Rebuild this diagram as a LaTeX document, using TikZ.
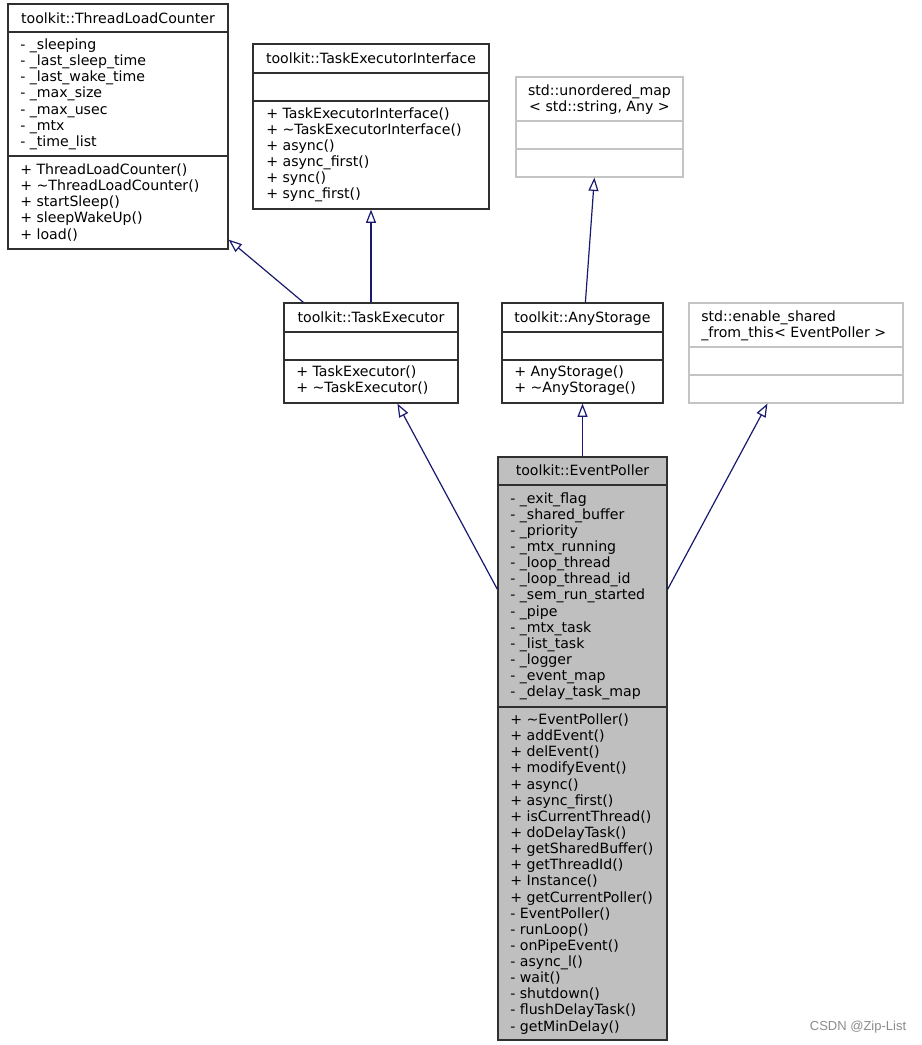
\documentclass[tikz,border=0pt]{standalone}
\usepackage{fontspec}
\setmainfont{DejaVu Sans}
\newfontfamily\wmfont{Liberation Sans}
\usetikzlibrary{arrows.meta,fit,calc}
\definecolor{edgeblue}{HTML}{191970}
\definecolor{epfill}{HTML}{BFBFBF}
\definecolor{lightborder}{HTML}{C4C4C4}
\definecolor{darkborder}{HTML}{303030}
\newcommand\umlfont{\fontsize{10.6}{12.1}\selectfont}
\begin{document}
\begin{tikzpicture}[x=0.75pt,y=-0.75pt,
  box/.style={draw=darkborder, line width=0.9pt, inner sep=0pt, fill=white},
  gbox/.style={draw=lightborder, line width=0.9pt, inner sep=0pt, fill=white},
  epbox/.style={draw=darkborder, line width=0.9pt, inner sep=0pt, fill=epfill},
  sep/.style={draw=darkborder, line width=0.9pt},
  gsep/.style={draw=lightborder, line width=0.9pt},
  txt/.style={inner sep=0pt, align=left, font=\umlfont, anchor=north west},
  ttl/.style={inner sep=0pt, align=center, font=\umlfont, anchor=north},
  inh/.style={draw=edgeblue, line width=0.9pt, -{Triangle[open, length=10pt, width=7.5pt]}}
]
\useasboundingbox (0,0) rectangle (921,1045);
\fill[white] (0,0) rectangle (921,1045);

% ---------- boxes ----------
\node[box,  fit={(8,4) (228,249)}]    (tlc) {};
\node[box,  fit={(253,44) (489,209)}] (tei) {};
\node[gbox, fit={(516,77) (683,177)}] (um)  {};
\node[box,  fit={(284,303) (458,403)}] (te) {};
\node[box,  fit={(502,303) (663,403)}] (as) {};
\node[gbox, fit={(689,303) (903,403)}] (es) {};
\node[epbox, fit={(498,457) (667,1040)}] (ep) {};

% ---------- separators ----------
\draw[sep] (tlc.west |- 0,32) -- (tlc.east |- 0,32);
\draw[sep] (tlc.west |- 0,156) -- (tlc.east |- 0,156);
\draw[sep] (tei.west |- 0,73) -- (tei.east |- 0,73);
\draw[sep] (tei.west |- 0,101) -- (tei.east |- 0,101);
\draw[gsep] (um.west |- 0,121) -- (um.east |- 0,121);
\draw[gsep] (um.west |- 0,149) -- (um.east |- 0,149);
\draw[sep] (te.west |- 0,332) -- (te.east |- 0,332);
\draw[sep] (te.west |- 0,360) -- (te.east |- 0,360);
\draw[sep] (as.west |- 0,332) -- (as.east |- 0,332);
\draw[sep] (as.west |- 0,360) -- (as.east |- 0,360);
\draw[gsep] (es.west |- 0,347) -- (es.east |- 0,347);
\draw[gsep] (es.west |- 0,375) -- (es.east |- 0,375);
\draw[sep] (ep.west |- 0,485) -- (ep.east |- 0,485);
\draw[sep] (ep.west |- 0,707) -- (ep.east |- 0,707);

% ---------- texts ----------
\node[ttl] (tlcT) at (118,11.5) {\strut toolkit::ThreadLoadCounter};
\node[txt] (tlcA) at (20,38) {\strut - \_sleeping\\\strut - \_last\_sleep\_time\\\strut - \_last\_wake\_time\\\strut - \_max\_size\\\strut - \_max\_usec\\\strut - \_mtx\\\strut - \_time\_list};
\node[txt] (tlcM) at (20,163) {\strut + ThreadLoadCounter()\\\strut + \textasciitilde ThreadLoadCounter()\\\strut + startSleep()\\\strut + sleepWakeUp()\\\strut + load()};

\node[ttl] (teiT) at (371,51.5) {\strut toolkit::TaskExecutorInterface};
\node[txt] (teiM) at (266,106.5) {\strut + TaskExecutorInterface()\\\strut + \textasciitilde TaskExecutorInterface()\\\strut + async()\\\strut + async\_first()\\\strut + sync()\\\strut + sync\_first()};

\node[ttl] (umT) at (599.5,83.5) {\strut std::unordered\_map\\\strut < std::string, Any >};

\node[ttl] (teT) at (371,310.5) {\strut toolkit::TaskExecutor};
\node[txt] (teM) at (296,365) {\strut + TaskExecutor()\\\strut + \textasciitilde TaskExecutor()};

\node[ttl] (asT) at (582.5,310.5) {\strut toolkit::AnyStorage};
\node[txt] (asM) at (514,365) {\strut + AnyStorage()\\\strut + \textasciitilde AnyStorage()};

\node[txt] (esT) at (701,309.5) {\strut std::enable\_shared\\\strut \_from\_this< EventPoller >};

\node[ttl] (epT) at (582.5,464) {\strut toolkit::EventPoller};
\node[txt] (epA) at (510,491.5) {\strut - \_exit\_flag\\\strut - \_shared\_buffer\\\strut - \_priority\\\strut - \_mtx\_running\\\strut - \_loop\_thread\\\strut - \_loop\_thread\_id\\\strut - \_sem\_run\_started\\\strut - \_pipe\\\strut - \_mtx\_task\\\strut - \_list\_task\\\strut - \_logger\\\strut - \_event\_map\\\strut - \_delay\_task\_map};
\node[txt] (epM) at (510,713) {\strut + \textasciitilde EventPoller()\\\strut + addEvent()\\\strut + delEvent()\\\strut + modifyEvent()\\\strut + async()\\\strut + async\_first()\\\strut + isCurrentThread()\\\strut + doDelayTask()\\\strut + getSharedBuffer()\\\strut + getThreadId()\\\strut + Instance()\\\strut + getCurrentPoller()\\\strut - EventPoller()\\\strut - runLoop()\\\strut - onPipeEvent()\\\strut - async\_l()\\\strut - wait()\\\strut - shutdown()\\\strut - flushDelayTask()\\\strut - getMinDelay()};

% ---------- inheritance edges ----------
\draw[inh] ($(te.north west)+(20,0)$) -- ($(tlc.south east)+(0,-10)$);
\draw[inh] (te.north) -- (tei.south);
\draw[inh] ($(as.north west)+(84,0)$) -- ($(um.south west)+(79,0)$);
\draw[inh] ($(ep.north west)+(0,133)$) -- ($(te.south west)+(114,0)$);
\draw[inh] (ep.north) -- (as.south);
\draw[inh] ($(ep.north east)+(0,133)$) -- ($(es.south west)+(79,0)$);

% ---------- watermark ----------
\node[font=\wmfont\fontsize{9.75}{11}\selectfont, text=black!45, inner sep=0pt] (wm) at (858,1027) {CSDN @Zip-List};
\end{tikzpicture}
\end{document}
